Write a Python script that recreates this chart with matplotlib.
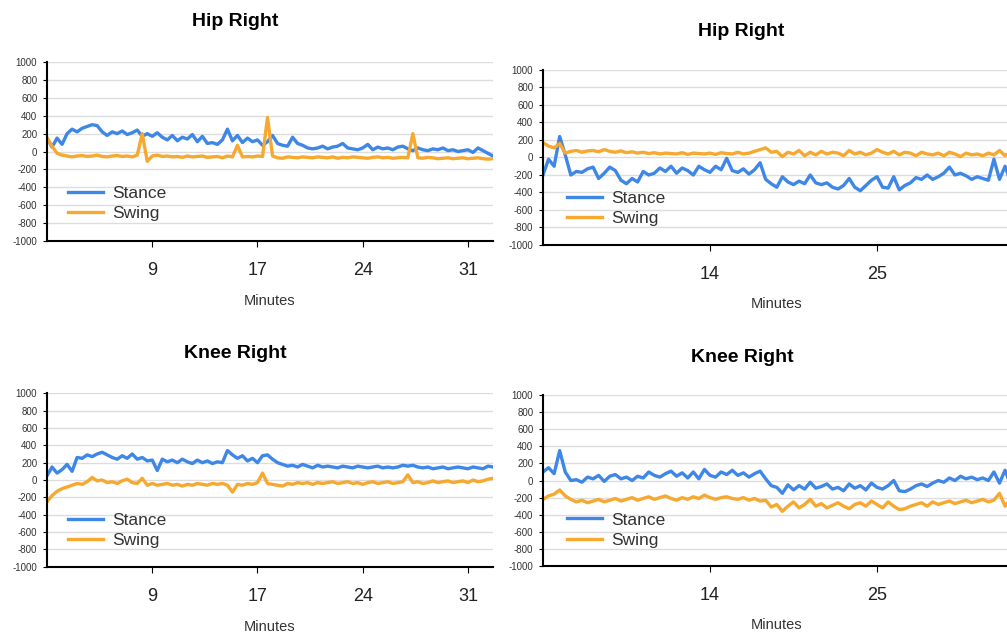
import matplotlib
matplotlib.use("Agg")
import matplotlib.pyplot as plt

plt.rcParams["font.family"] = ["Liberation Sans", "DejaVu Sans"]

# Hip / knee stance and swing values, left charts (90 samples)
hip_left_stance = [150, 50, 150, 80, 200, 250, 220, 260, 280, 300,
                   290, 220, 180, 220, 200, 230, 190, 210, 240, 170,
                   200, 170, 210, 160, 130, 180, 120, 160, 140, 190,
                   110, 170, 90, 100, 80, 130, 250, 120, 180, 100,
                   150, 110, 130, 70, 110, 180, 90, 70, 60, 160,
                   90, 70, 40, 30, 40, 60, 30, 50, 60, 90,
                   40, 30, 20, 40, 80, 20, 50, 30, 40, 20,
                   50, 60, 30, 10, 40, 20, 10, 30, 20, 40,
                   10, 20, 0, 10, 20, -10, 40, 10, -20, -50]
hip_left_swing = [150, 60, -20, -40, -50, -60, -50, -45, -55, -50,
                  -40, -55, -60, -50, -45, -55, -50, -60, -40, 200,
                  -110, -50, -40, -55, -50, -60, -55, -65, -50, -60,
                  -55, -50, -65, -60, -55, -70, -50, -60, 70, -60,
                  -55, -60, -50, -55, 380, -50, -70, -75, -60, -65,
                  -70, -60, -65, -70, -60, -65, -70, -60, -75, -65,
                  -70, -60, -65, -70, -75, -65, -60, -70, -65, -75,
                  -70, -65, -70, 200, -70, -75, -65, -70, -80, -75,
                  -70, -80, -75, -70, -80, -75, -70, -80, -85, -80]

knee_left_stance = [50, 150, 80, 120, 180, 100, 260, 250, 290, 270,
                    300, 320, 290, 260, 240, 280, 250, 300, 240, 260,
                    220, 230, 110, 240, 210, 230, 200, 240, 210, 190,
                    230, 200, 220, 190, 210, 200, 340, 290, 250, 280,
                    220, 250, 200, 280, 290, 240, 200, 180, 160, 170,
                    150, 180, 160, 140, 170, 150, 160, 150, 140, 160,
                    150, 140, 160, 150, 140, 150, 160, 140, 150, 140,
                    150, 170, 160, 170, 150, 140, 150, 130, 140, 150,
                    130, 140, 150, 140, 130, 150, 140, 130, 160, 150]
knee_left_swing = [-250, -180, -130, -100, -80, -60, -40, -50, -20, 30,
                   -10, 0, -30, -20, -40, -10, 10, -30, -40, 20,
                   -60, -40, -60, -50, -40, -60, -50, -70, -50, -60,
                   -40, -50, -60, -40, -50, -40, -60, -140, -50, -60,
                   -40, -50, -30, 80, -40, -50, -60, -70, -40, -50,
                   -30, -40, -30, -50, -30, -40, -30, -20, -40, -30,
                   -20, -40, -30, -50, -30, -20, -40, -30, -20, -40,
                   -30, -20, 60, -30, -20, -40, -30, -10, -30, -20,
                   -10, -30, -20, -10, -30, 0, -20, -10, 10, 20]

# right charts (85 samples)
hip_right_stance = [-200, -20, -100, 240, 30, -200, -160, -170, -130, -110,
                    -240, -180, -110, -150, -260, -300, -240, -280, -160, -200,
                    -180, -120, -160, -100, -180, -120, -150, -200, -100, -140,
                    -170, -100, -140, -10, -150, -170, -130, -190, -140, -60,
                    -250, -300, -340, -220, -280, -310, -270, -300, -200, -290,
                    -310, -290, -340, -360, -320, -240, -340, -380, -320, -260,
                    -220, -340, -350, -220, -370, -320, -290, -230, -250, -200,
                    -250, -220, -180, -110, -200, -180, -210, -250, -220, -240,
                    -260, -20, -250, -100, -280]
hip_right_swing = [170, 130, 110, 160, 50, 70, 80, 60, 75, 80,
                   65, 90, 70, 60, 75, 55, 65, 50, 60, 45,
                   55, 40, 50, 45, 40, 55, 35, 50, 45, 40,
                   50, 35, 55, 45, 40, 60, 40, 50, 70, 90,
                   110, 60, 70, 10, 60, 40, 80, 20, 60, 30,
                   70, 40, 60, 50, 20, 80, 40, 60, 30, 50,
                   90, 60, 40, 70, 30, 60, 50, 20, 60, 40,
                   30, 50, 20, 60, 40, 10, 50, 30, 40, 20,
                   50, 30, 80, 20, 60]

knee_right_stance = [100, 150, 80, 350, 100, 0, 10, -20, 40, 20,
                     60, -10, 50, 70, 20, 40, 0, 50, 30, 100,
                     60, 40, 80, 110, 50, 90, 30, 100, 20, 130,
                     60, 40, 100, 70, 120, 60, 90, 40, 80, 110,
                     20, -60, -80, -150, -50, -110, -60, -100, -20, -90,
                     -70, -40, -100, -80, -120, -40, -90, -60, -110, -30,
                     -80, -100, -60, 0, -120, -130, -100, -60, -40, -70,
                     -30, 0, -20, 30, 0, 50, 20, 40, 10, 30,
                     0, 100, -30, 120, -50]
knee_right_swing = [-220, -180, -160, -110, -180, -220, -250, -230, -260, -240,
                    -220, -250, -230, -210, -240, -220, -200, -230, -210, -190,
                    -220, -200, -180, -210, -230, -200, -220, -190, -210, -170,
                    -200, -220, -200, -190, -210, -220, -200, -230, -210, -240,
                    -230, -310, -280, -360, -300, -250, -320, -280, -220, -300,
                    -270, -320, -290, -260, -300, -330, -280, -260, -300, -240,
                    -280, -320, -250, -300, -340, -330, -300, -280, -260, -300,
                    -250, -280, -260, -240, -270, -250, -230, -260, -240, -220,
                    -250, -230, -150, -300, -220]

titles = ["Hip Right", "Hip Right", "Knee Right", "Knee Right"]
left_ticks = [21, 42, 63, 84]
left_labels = ["9", "17", "24", "31"]
right_ticks = [30, 60]
right_labels = ["14", "25"]
yticks = list(range(-1000, 1001, 200))

blue = "#3f87e6"
orange = "#f6a82f"

fig = plt.figure(figsize=(10.07, 6.39), dpi=100)

# axes boxes (figure fractions)
boxes = [
    [0.0467, 0.6228, 0.4429, 0.2801],
    [0.5392, 0.6166, 0.4644, 0.2739],
    [0.0467, 0.1131, 0.4429, 0.2714],
    [0.5392, 0.1142, 0.4644, 0.2676],
]
series = [
    (hip_left_stance, hip_left_swing, left_ticks, left_labels),
    (hip_right_stance, hip_right_swing, right_ticks, right_labels),
    (knee_left_stance, knee_left_swing, left_ticks, left_labels),
    (knee_right_stance, knee_right_swing, right_ticks, right_labels),
]
title_pos = [(235, 22), (741, 31), (235, 354), (742, 357)]
legend_x = [0.047, 0.051, 0.047, 0.051]
label_y = [-0.296, -0.297, -0.307, -0.304]

for i, box in enumerate(boxes):
    stance, swing, ticks, labels = series[i]
    ax = fig.add_axes(box)
    ax.plot(range(len(stance)), stance, color=blue, lw=2.4, label="Stance")
    ax.plot(range(len(swing)), swing, color=orange, lw=2.4, label="Swing")
    ax.set_xlim(0, len(stance) - 1)
    ax.set_ylim(-1000, 1000)
    ax.set_yticks(yticks)
    ax.set_yticklabels([str(v) for v in yticks], fontsize=7, color="#333333")
    ax.set_xticks(ticks)
    ax.set_xticklabels(labels, fontsize=13, color="#222222")
    ax.tick_params(axis="x", length=4, pad=11)
    ax.tick_params(axis="y", length=3, pad=4)
    ax.grid(axis="y", color="#dddddd", lw=1)
    ax.set_axisbelow(True)
    for s in ["top", "right"]:
        ax.spines[s].set_visible(False)
    ax.spines["left"].set_linewidth(1.5)
    ax.spines["bottom"].set_linewidth(1.5)
    ax.set_xlabel("Minutes", fontsize=10.5, color="#333333")
    ax.xaxis.set_label_coords(0.5, label_y[i])
    ax.legend(loc="center left", bbox_to_anchor=(legend_x[i], 0.21),
              frameon=False, fontsize=12.5, handlelength=2.0,
              handletextpad=0.55, labelspacing=0.3, borderpad=0,
              borderaxespad=0, labelcolor="#333333")
    fig.text(title_pos[i][0] / 1007, 1 - title_pos[i][1] / 639, titles[i],
             ha="center", va="center", fontsize=14, fontweight="bold")

fig.savefig("out.png", dpi=100)
